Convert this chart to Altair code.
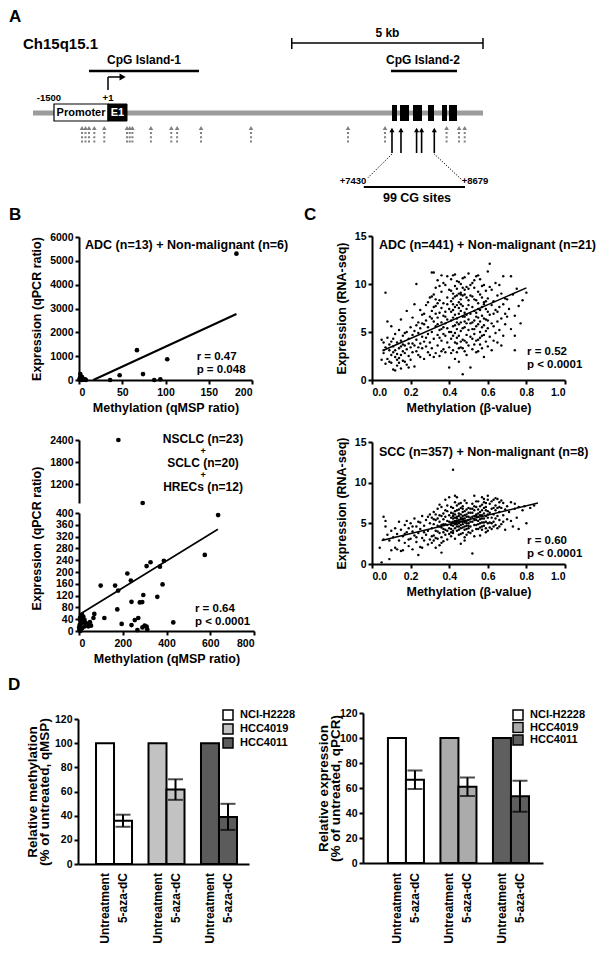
import altair as alt
import pandas as pd

FONT = "Liberation Sans, Arial, Helvetica, sans-serif"
PW, PH = 588, 939

# ---------------- data: panel A (positions in bp relative to TSS) ----------------
gene_span = [-2000, 10000]
promoter = [-1440, 0]
exon1 = [0, 507]
exon_starts = [7573, 7787, 8133, 8533, 8907, 9093]
exon_ends = [7707, 8027, 8373, 8693, 9040, 9307]
cpg1 = [-507, 2427]
cpg2 = [7547, 9307]
scale_5kb = [4900, 10000]
cg_region = [6821, 9520]
cg_triangles = [-693, -600, -507, -365, -99, 507, 579, 651, 1144, 1688, 1843, 2480,
                3813, 6400, 7387, 9029, 9360, 9512]
cg_arrows = [7573, 7813, 8229, 8363, 8701]

# ---------------- data: panel B ----------------
b1_meth = [0.5, 1, 1.5, 2, 2.5, 3, 3.5, 4, 5, 7, 8, 36, 47, 67, 74, 87, 94, 102, 182]
b1_expr = [20, 80, 250, 150, 40, 0, 120, 60, 10, 30, 0, 0, 200, 1250, 250, 0, 30, 870, 5300]
b1_fit_x = [16.5, 182]
b1_fit_y = [0, 2770]

b2_meth = [636, 99, 165, 179, 221, 237, 309, 327, 370, 388, 382, 358, 294, 240, 278, 289,
           175, 575, 431, 195, 240, 255, 271, 300, 309, 312, 267, 116, 70, 66, 50, 43, 27,
           5, 8, 12, 10, 3, 15, 2, 20, 18, 6, 25, 14, 45, 55, 1, 4, 9, 30, 7, 290]
b2_expr = [393, 154, 154, 137, 195, 171, 220, 233, 218, 238, 158, 116, 122, 99, 97, 98,
           73, 258, 29, 24, 20, 37, 44, 18, 15, 6, 3, 44, 58, 44, 30, 16, 16,
           45, 40, 35, 25, 20, 10, 5, 48, 30, 0, 38, 55, 25, 18, 12, 2, 8, 28, 33, 12]
b2_high_meth = [180, 291]
b2_high_expr = [2400, 700]
b2_fit_x = [0, 635]
b2_fit_y = [55, 345]

# ---------------- data: panel C ----------------
c_top = [
    (0.05, 2.1), (0.06, 3.9), (0.06, 2.8), (0.07, 9.1), (0.07, 3.4), (0.08, 4.4), (0.08, 2.2),
    (0.09, 1.9), (0.09, 3.1), (0.10, 4.0), (0.10, 2.6), (0.10, 5.6), (0.05, 4.2), (0.07, 1.7),
    (0.09, 3.7), (0.08, 6.1), (0.06, 3.1), (0.10, 1.8),
    (0.11, 2.9), (0.11, 1.1), (0.11, 3.5), (0.12, 2.4), (0.12, 4.8), (0.12, 1.0), (0.13, 2.7),
    (0.13, 3.9), (0.13, 1.5), (0.14, 2.3), (0.14, 5.2), (0.14, 3.3), (0.15, 1.2), (0.15, 2.6),
    (0.15, 4.1), (0.15, 6.3), (0.16, 3.0), (0.16, 2.0), (0.16, 4.6), (0.17, 3.6), (0.17, 1.9),
    (0.17, 2.8), (0.18, 5.0), (0.18, 3.2), (0.18, 1.6), (0.18, 7.2), (0.19, 2.5), (0.19, 4.3),
    (0.19, 3.8), (0.20, 2.1), (0.20, 5.5), (0.20, 3.4), (0.12, 3.1), (0.14, 1.8), (0.16, 3.7),
    (0.13, 2.1), (0.17, 4.9), (0.19, 1.3), (0.11, 4.3), (0.15, 3.5),
    (0.21, 4.7), (0.21, 2.9), (0.21, 6.5), (0.22, 3.6), (0.22, 5.1), (0.22, 1.4), (0.23, 10.0),
    (0.23, 4.2), (0.23, 3.0), (0.24, 6.0), (0.24, 2.6), (0.24, 4.9), (0.25, 3.8), (0.25, 7.3),
    (0.25, 5.4), (0.26, 3.3), (0.26, 4.5), (0.26, 6.8), (0.27, 2.2), (0.27, 5.8), (0.27, 4.0),
    (0.28, 3.5), (0.28, 6.2), (0.28, 7.8), (0.29, 4.8), (0.29, 2.9), (0.29, 5.5), (0.30, 3.9),
    (0.30, 6.6), (0.30, 8.6), (0.22, 7.9), (0.24, 3.4), (0.26, 5.9), (0.28, 4.4), (0.30, 2.6),
    (0.23, 5.7), (0.25, 2.4), (0.27, 6.9), (0.29, 8.1), (0.21, 3.8),
    (0.31, 11.2), (0.31, 5.0), (0.31, 3.3), (0.31, 7.2), (0.32, 11.2), (0.32, 4.3), (0.32, 6.1),
    (0.32, 8.9), (0.33, 2.8), (0.33, 5.6), (0.33, 7.7), (0.33, 9.6), (0.34, 4.7), (0.34, 6.5),
    (0.34, 3.6), (0.34, 10.4), (0.35, 5.2), (0.35, 7.0), (0.35, 8.3), (0.35, 2.5), (0.36, 6.0),
    (0.36, 4.1), (0.36, 9.2), (0.36, 7.5), (0.37, 5.5), (0.37, 3.2), (0.37, 8.0), (0.37, 6.7),
    (0.38, 4.6), (0.38, 9.9), (0.38, 7.1), (0.38, 5.9), (0.39, 3.9), (0.39, 6.3), (0.39, 8.6),
    (0.39, 10.8), (0.40, 5.0), (0.40, 7.4), (0.40, 1.3), (0.40, 9.4), (0.31, 6.4), (0.32, 2.4),
    (0.33, 8.4), (0.34, 5.8), (0.35, 9.8), (0.36, 3.0), (0.37, 10.1), (0.38, 2.9), (0.39, 5.4),
    (0.40, 3.4), (0.32, 7.6), (0.34, 8.0), (0.36, 5.3), (0.38, 6.6), (0.35, 4.4), (0.33, 6.9),
    (0.37, 4.8), (0.39, 7.9), (0.31, 8.7), (0.36, 10.9),
    (0.41, 6.2), (0.41, 8.2), (0.41, 4.3), (0.41, 10.5), (0.42, 10.9), (0.42, 5.6), (0.42, 7.3),
    (0.42, 3.1), (0.42, 9.0), (0.43, 6.8), (0.43, 4.9), (0.43, 8.7), (0.43, 2.2), (0.43, 11.0),
    (0.44, 5.3), (0.44, 7.8), (0.44, 9.5), (0.44, 3.8), (0.44, 6.4), (0.45, 8.1), (0.45, 4.6),
    (0.45, 10.2), (0.45, 6.9), (0.45, 5.8), (0.46, 7.2), (0.46, 3.4), (0.46, 9.1), (0.46, 5.1),
    (0.46, 8.4), (0.47, 0.6), (0.47, 6.6), (0.47, 4.2), (0.47, 7.7), (0.47, 10.6), (0.48, 10.7),
    (0.48, 5.5), (0.48, 8.9), (0.48, 3.0), (0.48, 6.1), (0.49, 7.4), (0.49, 4.7), (0.49, 9.7),
    (0.49, 5.9), (0.50, 8.3), (0.50, 6.3), (0.50, 3.6), (0.50, 11.1), (0.41, 5.0), (0.42, 6.5),
    (0.43, 7.6), (0.44, 4.4), (0.45, 7.5), (0.46, 6.0), (0.47, 8.8), (0.48, 7.0), (0.49, 6.8),
    (0.50, 5.2), (0.41, 7.1), (0.42, 8.5), (0.43, 5.7), (0.44, 8.8), (0.45, 3.3), (0.46, 10.0),
    (0.47, 5.4), (0.48, 9.4), (0.49, 2.6), (0.50, 7.8), (0.41, 9.3), (0.43, 9.8), (0.44, 2.9),
    (0.46, 4.0), (0.47, 9.6), (0.49, 8.6), (0.50, 9.5), (0.42, 4.6), (0.44, 10.3), (0.45, 9.0),
    (0.48, 4.1), (0.43, 3.9), (0.46, 7.9), (0.41, 2.8), (0.45, 1.9), (0.49, 3.9), (0.47, 3.3),
    (0.44, 6.0), (0.42, 7.9), (0.48, 6.6), (0.46, 8.9),
    (0.51, 1.3), (0.51, 6.9), (0.51, 8.8), (0.51, 4.5), (0.52, 7.6), (0.52, 5.3), (0.52, 10.1),
    (0.52, 3.2), (0.53, 6.2), (0.53, 8.4), (0.53, 4.8), (0.53, 9.6), (0.54, 7.0), (0.54, 5.6),
    (0.54, 2.9), (0.54, 10.8), (0.55, 6.5), (0.55, 8.0), (0.55, 4.2), (0.55, 9.2), (0.56, 7.3),
    (0.56, 5.0), (0.56, 10.5), (0.56, 3.7), (0.57, 6.7), (0.57, 8.6), (0.57, 4.6), (0.58, 7.9),
    (0.58, 5.7), (0.58, 9.9), (0.58, 2.4), (0.59, 6.3), (0.59, 8.2), (0.59, 4.0), (0.60, 7.1),
    (0.60, 5.4), (0.60, 11.3), (0.51, 5.9), (0.52, 8.7), (0.53, 7.2), (0.54, 4.1), (0.55, 5.8),
    (0.56, 8.9), (0.57, 7.6), (0.58, 6.4), (0.59, 9.3), (0.60, 3.5), (0.52, 6.0), (0.53, 10.4),
    (0.54, 8.3), (0.55, 3.0), (0.56, 6.1), (0.57, 9.8), (0.58, 4.7), (0.59, 5.1), (0.60, 8.5),
    (0.51, 9.9), (0.53, 5.3), (0.55, 10.9), (0.57, 5.5), (0.59, 7.4), (0.61, 12.1), (0.52, 4.3),
    (0.54, 6.6), (0.56, 4.4), (0.58, 8.1), (0.60, 6.2), (0.53, 3.7), (0.55, 7.4), (0.57, 3.3),
    (0.61, 6.8), (0.61, 4.5), (0.62, 3.1), (0.62, 7.8), (0.62, 9.4), (0.63, 5.6), (0.63, 8.2),
    (0.63, 6.9), (0.64, 4.9), (0.64, 10.1), (0.64, 7.3), (0.65, 6.1), (0.65, 8.8), (0.65, 3.9),
    (0.66, 7.6), (0.66, 5.2), (0.67, 9.0), (0.67, 6.4), (0.68, 10.8), (0.68, 4.6), (0.68, 7.9),
    (0.69, 5.8), (0.69, 8.5), (0.70, 8.4), (0.70, 6.6), (0.61, 9.7), (0.63, 4.1), (0.66, 9.9),
    (0.62, 5.9), (0.65, 7.1), (0.67, 3.6), (0.69, 6.9),
    (0.71, 7.4), (0.72, 10.8), (0.72, 5.3), (0.73, 8.9), (0.74, 3.1), (0.74, 6.7), (0.75, 9.5),
    (0.76, 7.7), (0.77, 5.9), (0.78, 8.3), (0.80, 9.1), (0.74, 4.6),
]
c_top_fit_x = [0.06, 0.80]
c_top_fit_y = [3.1, 9.6]

c_bot = [
    (0.04, 2.0), (0.05, 0.2), (0.06, 5.8), (0.06, 3.0), (0.07, 4.6), (0.07, 5.3), (0.08, 3.6),
    (0.09, 0.6), (0.09, 2.9), (0.10, 1.7), (0.10, 4.1), (0.11, 3.3), (0.12, 2.0), (0.12, 4.4),
    (0.13, 1.8), (0.13, 3.7), (0.14, 2.9), (0.15, 1.6), (0.15, 4.2), (0.14, 5.2),
    (0.16, 3.4), (0.16, 1.7), (0.17, 4.8), (0.17, 2.6), (0.18, 3.9), (0.18, 5.3), (0.19, 2.2),
    (0.19, 4.4), (0.20, 3.1), (0.20, 5.0), (0.21, 1.8), (0.21, 4.0), (0.22, 3.5), (0.22, 5.6),
    (0.23, 2.7), (0.23, 4.6), (0.24, 1.1), (0.24, 3.8), (0.24, 5.2), (0.25, 4.3), (0.25, 2.1),
    (0.26, 3.2), (0.26, 5.9), (0.27, 4.7), (0.27, 2.9), (0.28, 3.6), (0.28, 5.4), (0.29, 4.1),
    (0.29, 2.4), (0.30, 3.0), (0.30, 5.0), (0.30, 6.1), (0.17, 3.7), (0.19, 3.0), (0.21, 4.6),
    (0.23, 3.3), (0.25, 5.1), (0.27, 3.9), (0.29, 5.8), (0.26, 2.0),
    (0.31, 4.4), (0.31, 2.6), (0.31, 5.7), (0.32, 3.5), (0.32, 4.9), (0.32, 6.4), (0.33, 2.0),
    (0.33, 4.1), (0.33, 5.4), (0.34, 3.1), (0.34, 4.7), (0.34, 6.8), (0.35, 3.8), (0.35, 5.2),
    (0.35, 2.3), (0.35, 7.3), (0.36, 4.5), (0.36, 5.9), (0.36, 3.3), (0.36, 1.4), (0.37, 4.9),
    (0.37, 6.2), (0.37, 2.8), (0.37, 5.5), (0.38, 4.2), (0.38, 5.8), (0.38, 3.6), (0.38, 7.9),
    (0.39, 4.8), (0.39, 6.5), (0.39, 3.0), (0.39, 5.3), (0.40, 4.4), (0.40, 6.0), (0.40, 3.7),
    (0.40, 8.2), (0.31, 3.4), (0.32, 5.5), (0.33, 6.1), (0.34, 4.0), (0.35, 6.0), (0.36, 7.0),
    (0.37, 3.9), (0.38, 4.9), (0.39, 7.2), (0.40, 5.2), (0.33, 3.2), (0.35, 4.6), (0.37, 4.3),
    (0.39, 4.1), (0.34, 5.6), (0.36, 4.8), (0.38, 6.6), (0.32, 2.9), (0.36, 2.6),
    (0.41, 5.1), (0.41, 4.3), (0.41, 6.3), (0.41, 3.4), (0.42, 11.6), (0.42, 5.6), (0.42, 4.7),
    (0.42, 6.9), (0.42, 3.8), (0.43, 5.3), (0.43, 4.4), (0.43, 6.1), (0.43, 7.6), (0.43, 3.1),
    (0.44, 5.8), (0.44, 4.9), (0.44, 6.6), (0.44, 4.1), (0.44, 8.2), (0.45, 5.4), (0.45, 4.6),
    (0.45, 6.2), (0.45, 5.0), (0.45, 3.6), (0.46, 5.7), (0.46, 4.8), (0.46, 6.9), (0.46, 5.2),
    (0.46, 2.5), (0.47, 5.5), (0.47, 4.5), (0.47, 6.4), (0.47, 5.9), (0.47, 7.1), (0.48, 5.1),
    (0.48, 4.2), (0.48, 6.0), (0.48, 5.6), (0.48, 3.3), (0.49, 5.8), (0.49, 4.7), (0.49, 6.7),
    (0.49, 5.3), (0.49, 7.5), (0.50, 5.4), (0.50, 4.4), (0.50, 6.3), (0.50, 5.0), (0.50, 3.9),
    (0.41, 5.7), (0.42, 5.2), (0.43, 4.9), (0.44, 5.3), (0.45, 5.9), (0.46, 4.4), (0.47, 5.2),
    (0.48, 6.5), (0.49, 4.3), (0.50, 5.8), (0.41, 4.8), (0.42, 6.2), (0.43, 5.7), (0.44, 4.6),
    (0.45, 6.7), (0.46, 6.1), (0.47, 4.9), (0.48, 5.3), (0.49, 6.1), (0.50, 6.9), (0.41, 7.0),
    (0.43, 8.4), (0.45, 7.4), (0.47, 3.8), (0.49, 3.6), (0.42, 4.1), (0.44, 7.2), (0.46, 3.7),
    (0.48, 7.8), (0.50, 4.7), (0.41, 3.9), (0.43, 6.5), (0.45, 4.2), (0.47, 6.8), (0.49, 5.0),
    (0.44, 5.6), (0.46, 5.5), (0.48, 4.6), (0.42, 5.9), (0.46, 7.5), (0.48, 2.9), (0.45, 5.1),
    (0.47, 5.6), (0.43, 5.0),
    (0.51, 5.7), (0.51, 4.6), (0.51, 6.8), (0.51, 3.8), (0.52, 5.2), (0.52, 6.3), (0.52, 1.3),
    (0.52, 7.4), (0.53, 5.9), (0.53, 4.8), (0.53, 6.6), (0.53, 8.4), (0.54, 5.4), (0.54, 4.3),
    (0.54, 7.0), (0.54, 6.1), (0.55, 5.8), (0.55, 4.9), (0.55, 6.7), (0.55, 7.7), (0.56, 5.5),
    (0.56, 4.5), (0.56, 6.4), (0.56, 3.5), (0.57, 6.0), (0.57, 5.1), (0.57, 7.3), (0.57, 8.2),
    (0.58, 5.6), (0.58, 4.7), (0.58, 6.9), (0.58, 6.2), (0.59, 5.9), (0.59, 4.4), (0.59, 7.5),
    (0.59, 5.2), (0.60, 6.5), (0.60, 5.0), (0.60, 7.9), (0.60, 4.1), (0.51, 5.2), (0.52, 4.1),
    (0.53, 5.4), (0.54, 5.9), (0.55, 5.3), (0.56, 7.1), (0.57, 4.6), (0.58, 7.6), (0.59, 6.6),
    (0.60, 5.7), (0.51, 6.3), (0.53, 7.1), (0.55, 4.3), (0.57, 6.6), (0.59, 3.9), (0.52, 5.8),
    (0.54, 4.8), (0.56, 6.0), (0.58, 5.1), (0.60, 6.1), (0.53, 3.4), (0.55, 6.2), (0.57, 5.6),
    (0.59, 7.0), (0.54, 7.7), (0.56, 5.0), (0.58, 8.0), (0.52, 6.8), (0.57, 4.2), (0.60, 8.4),
    (0.61, 6.3), (0.61, 5.1), (0.61, 7.4), (0.62, 5.7), (0.62, 6.8), (0.62, 4.3), (0.63, 6.1),
    (0.63, 7.9), (0.63, 5.2), (0.64, 6.6), (0.64, 4.8), (0.64, 7.2), (0.65, 5.9), (0.65, 8.0),
    (0.65, 4.4), (0.66, 6.4), (0.66, 7.6), (0.66, 5.4), (0.67, 6.9), (0.67, 4.9), (0.68, 7.5),
    (0.68, 6.0), (0.69, 4.2), (0.69, 6.7), (0.70, 7.1), (0.70, 5.5), (0.62, 7.7), (0.63, 4.6),
    (0.64, 5.6), (0.65, 6.9), (0.66, 4.6), (0.67, 7.8), (0.68, 5.2), (0.61, 4.5), (0.63, 6.9),
    (0.66, 7.0), (0.64, 8.1), (0.62, 5.0),
    (0.71, 6.4), (0.72, 5.3), (0.72, 7.6), (0.73, 4.6), (0.74, 6.8), (0.74, 7.4), (0.75, 5.7),
    (0.76, 4.3), (0.76, 7.0), (0.78, 6.6), (0.79, 7.1), (0.80, 5.0), (0.82, 6.9), (0.84, 7.2),
]
c_bot_fit_x = [0.05, 0.86]
c_bot_fit_y = [2.9, 7.5]

# ---------------- data: panel D ----------------
cells = ["NCI-H2228", "HCC4019", "HCC4011"]
treats = ["Untreatment", "5-aza-dC"]
d_meth_mean = [100, 35.8, 100, 61.6, 100, 39.0]
d_meth_err = [0, 5.0, 0, 8.5, 0, 10.8]
d_expr_mean = [100, 66.6, 100, 61.0, 100, 53.5]
d_expr_err = [0, 7.4, 0, 7.4, 0, 12.4]
d_meth_colors = ["#ffffff", "#c2c2c2", "#5b5b5b"]
d_expr_colors = ["#ffffff", "#ababab", "#5f5f5f"]


# ---------------- helpers ----------------
def axis(orient, offset, **kw):
    base = dict(orient=orient, offset=offset, grid=False,
                domainColor="black", domainWidth=2,
                tickColor="black", tickWidth=2, tickSize=4,
                labelFont=FONT, labelFontSize=10.5, labelFontWeight="bold",
                labelColor="black", labelPadding=2, labelOverlap=False,
                titleFont=FONT, titleFontSize=12.5, titleFontWeight="bold",
                titleColor="black", titlePadding=4)
    base.update(kw)
    return alt.Axis(**base)


def text_layer(df, X, Y, size=12.5, align="left", color="black", **kw):
    return alt.Chart(df).mark_text(font=FONT, fontWeight="bold", fontSize=size,
                                   align=align, baseline="middle", color=color, **kw
                                   ).encode(x=X, y=Y, text="t:N")


# ---------------- panel A ----------------
AXS = alt.Scale(domain=[-2000, 10000], range=[25, 475])
AYS = alt.Scale(domain=[0, 210], range=[0, 210])


def AX(f="x"):
    return alt.X(f"{f}:Q", scale=AXS, axis=None)


def AY(f="y"):
    return alt.Y(f"{f}:Q", scale=AYS, axis=None)


def a_rule(df, **mk):
    enc = dict(x=AX(), y=AY())
    if "x2" in df:
        enc["x2"] = alt.X2("x2:Q")
    if "y2" in df:
        enc["y2"] = alt.Y2("y2:Q")
    return alt.Chart(df).mark_rule(**mk).encode(**enc)


def a_rect(df, **mk):
    return alt.Chart(df).mark_rect(**mk).encode(x=AX(), x2=alt.X2("x2:Q"), y=AY(), y2=alt.Y2("y2:Q"))


def a_points(df, **mk):
    return alt.Chart(df).mark_point(filled=True, opacity=1, **mk).encode(x=AX(), y=AY())


GRAY = "#808080"
panelA = alt.layer(
    a_rule(pd.DataFrame({"x": [gene_span[0]], "x2": [gene_span[1]], "y": [105]}),
           color="#9c9c9c", strokeWidth=5),
    a_rect(pd.DataFrame({"x": [promoter[0]], "x2": [promoter[1]], "y": [96], "y2": [113]}),
           fill="white", stroke="black", strokeWidth=1.2),
    a_rect(pd.DataFrame({"x": [exon1[0]], "x2": [exon1[1]], "y": [96], "y2": [113]}),
           fill="black", stroke="black", strokeWidth=1),
    a_rect(pd.DataFrame({"x": exon_starts, "x2": exon_ends,
                         "y": [97] * len(exon_starts), "y2": [113] * len(exon_starts)}),
           fill="black"),
    text_layer(pd.DataFrame({"t": ["Promoter"], "x": [-720], "y": [105]}), AX(), AY(),
               size=11, align="center"),
    text_layer(pd.DataFrame({"t": ["E1"], "x": [253], "y": [105]}), AX(), AY(),
               size=11, align="center", color="white"),
    text_layer(pd.DataFrame({"t": ["-1500", "+1"], "x": [-1573, 0], "y": [90, 90]}), AX(), AY(),
               size=9.5, align="center"),
    # transcription start arrow
    a_rule(pd.DataFrame({"x": [0], "y": [69], "y2": [82]}), color="black", strokeWidth=1.5),
    a_rule(pd.DataFrame({"x": [0], "x2": [330], "y": [69]}), color="black", strokeWidth=1.5),
    a_points(pd.DataFrame({"x": [390], "y": [69]}), shape="triangle-right", size=50, color="black"),
    # CpG islands
    a_rule(pd.DataFrame({"x": [cpg1[0], cpg2[0]], "x2": [cpg1[1], cpg2[1]], "y": [63, 63]}),
           color="black", strokeWidth=2.5),
    text_layer(pd.DataFrame({"t": ["CpG Island-1", "CpG Island-2"], "x": [960, 8400], "y": [52, 52]}),
               AX(), AY(), size=12, align="center"),
    # 5 kb scale
    a_rule(pd.DataFrame({"x": [scale_5kb[0]], "x2": [scale_5kb[1]], "y": [35]}),
           color="black", strokeWidth=1.5),
    a_rule(pd.DataFrame({"x": scale_5kb, "y": [30, 30], "y2": [41, 41]}),
           color="black", strokeWidth=1.5),
    text_layer(pd.DataFrame({"t": ["5 kb"], "x": [7450], "y": [25]}), AX(), AY(),
               size=12, align="center"),
    text_layer(pd.DataFrame({"t": ["Ch15q15.1"], "x": [-2267], "y": [36]}), AX(), AY(),
               size=15, align="left"),
    # CG sites
    a_points(pd.DataFrame({"x": cg_triangles, "y": [120] * len(cg_triangles)}),
             shape="triangle-up", size=22, color=GRAY),
    a_rule(pd.DataFrame({"x": cg_triangles, "y": [124] * len(cg_triangles),
                         "y2": [136] * len(cg_triangles)}),
           color=GRAY, strokeWidth=2, strokeDash=[2, 2.2]),
    a_rule(pd.DataFrame({"x": cg_arrows, "y": [123] * len(cg_arrows), "y2": [145] * len(cg_arrows)}),
           color="black", strokeWidth=1.6),
    a_points(pd.DataFrame({"x": cg_arrows, "y": [122] * len(cg_arrows)}),
             shape="triangle-up", size=26, color="black"),
    a_rule(pd.DataFrame({"x": [cg_arrows[0], cg_arrows[-1]], "y": [146, 146],
                         "x2": [6925, 9440], "y2": [170, 172]}),
           color="black", strokeWidth=1, strokeDash=[1.2, 1.5]),
    text_layer(pd.DataFrame({"t": ["+7430"], "x": [6890], "y": [173]}), AX(), AY(),
               size=9.5, align="right"),
    text_layer(pd.DataFrame({"t": ["+8679"], "x": [9430], "y": [173]}), AX(), AY(),
               size=9.5, align="left"),
    a_rule(pd.DataFrame({"x": [cg_region[0]], "x2": [cg_region[1]], "y": [179]}),
           color="black", strokeWidth=2),
    text_layer(pd.DataFrame({"t": ["99 CG sites"], "x": [8240], "y": [190]}), AX(), AY(),
               size=12.5, align="center"),
)

# ---------------- panel B top ----------------
def b1x():
    return alt.X("x:Q", scale=alt.Scale(domain=[0, 200], range=[71, 244]),
                 axis=axis("bottom", 372 - PH, values=[0, 50, 100, 150, 200], format="d",
                           title="Methylation (qMSP ratio)", labelPadding=3))


def b1y():
    return alt.Y("y:Q", scale=alt.Scale(domain=[0, 6000], range=[372, 229]),
                 axis=axis("left", -71, values=[0, 1000, 2000, 3000, 4000, 5000, 6000], format="d",
                           title="Expression (qPCR ratio)", titleX=-36))


panelB1 = alt.layer(
    alt.Chart(pd.DataFrame({"x": b1_fit_x, "y": b1_fit_y})).mark_line(color="black", strokeWidth=2)
    .encode(x=b1x(), y=b1y()),
    alt.Chart(pd.DataFrame({"x": b1_meth, "y": b1_expr})).mark_circle(color="black", size=22, opacity=1)
    .encode(x=b1x(), y=b1y()),
    text_layer(pd.DataFrame({"t": ["ADC (n=13) + Non-malignant (n=6)"], "x": [7], "y": [5665]}),
               b1x(), b1y()),
    text_layer(pd.DataFrame({"t": ["r = 0.47", "p = 0.048"], "x": [136, 136], "y": [965, 420]}),
               b1x(), b1y(), size=11.5),
)

# ---------------- panel B bottom (broken axis) ----------------
B2XS = alt.Scale(domain=[0, 800], range=[71, 246])


def b2x(ax=True):
    if ax:
        return alt.X("x:Q", scale=B2XS,
                     axis=axis("bottom", 623 - PH, values=[0, 200, 400, 600, 800], format="d",
                               title="Methylation (qMSP ratio)", labelPadding=3))
    return alt.X("x:Q", scale=B2XS, axis=None)


def b2y():
    return alt.Y("y:Q", scale=alt.Scale(domain=[0, 400], range=[623, 505]),
                 axis=axis("left", -71, values=list(range(0, 401, 40)), format="d",
                           title="Expression (qPCR ratio)", titleX=-36, titleY=530))


def b2uy():
    return alt.Y("y:Q", scale=alt.Scale(domain=[700, 2400], range=[495, 432]),
                 axis=axis("left", -71, values=[1200, 1800, 2400], format="d", title=None))


b2_title_lines = ["NSCLC (n=23)", "SCLC (n=20)", "HRECs (n=12)"]
panelB2up = alt.layer(
    alt.Chart(pd.DataFrame({"x": b2_high_meth, "y": b2_high_expr}))
    .mark_circle(color="black", size=22, opacity=1).encode(x=b2x(False), y=b2uy()),
    text_layer(pd.DataFrame({"t": b2_title_lines, "x": [567] * 3, "y": [2427, 1779, 1132]}),
               b2x(False), b2uy(), size=12, align="center"),
    text_layer(pd.DataFrame({"t": ["+", "+"], "x": [567] * 2, "y": [2103, 1455]}),
               b2x(False), b2uy(), size=9, align="center"),
)

panelB2 = alt.layer(
    alt.Chart(pd.DataFrame({"x": b2_fit_x, "y": b2_fit_y})).mark_line(color="black", strokeWidth=1.6)
    .encode(x=b2x(), y=b2y()),
    alt.Chart(pd.DataFrame({"x": b2_meth, "y": b2_expr})).mark_circle(color="black", size=22, opacity=1)
    .encode(x=b2x(), y=b2y()),
    text_layer(pd.DataFrame({"t": ["r = 0.64", "p < 0.0001"], "x": [530, 530], "y": [75, 31]}),
               b2x(), b2y(), size=11.5),
)

# ---------------- panel C ----------------
def cx(bottom_px):
    return alt.X("x:Q", scale=alt.Scale(domain=[0, 1], range=[364, 557]),
                 axis=axis("bottom", bottom_px - PH, values=[0, 0.2, 0.4, 0.6, 0.8, 1.0],
                           format=".1f", title="Methylation (β-value)", labelPadding=3))


def cy(bottom_px, top_px):
    return alt.Y("y:Q", scale=alt.Scale(domain=[0, 15], range=[bottom_px, top_px]),
                 axis=axis("left", -364, values=[0, 5, 10, 15], format="d",
                           title="Expression (RNA-seq)", titleX=-24))


def c_panel(points, fx, fy, title, r, p, bottom_px, top_px, ty, ry, py):
    X, Y = cx(bottom_px), cy(bottom_px, top_px)
    return alt.layer(
        alt.Chart(pd.DataFrame({"x": [a for a, b in points], "y": [b for a, b in points]}))
        .mark_circle(color="black", size=6, opacity=1).encode(x=X, y=Y),
        alt.Chart(pd.DataFrame({"x": fx, "y": fy})).mark_line(color="black", strokeWidth=1.5)
        .encode(x=X, y=Y),
        text_layer(pd.DataFrame({"t": [title], "x": [0.036], "y": [ty]}), X, Y),
        text_layer(pd.DataFrame({"t": [r, p], "x": [0.803, 0.803], "y": [ry, py]}), X, Y, size=11.5),
    )


panelC1 = c_panel(c_top, c_top_fit_x, c_top_fit_y, "ADC (n=441) + Non-malignant (n=21)",
                  "r = 0.52", "p < 0.0001", 372, 228, 14.06, 2.92, 1.56)
panelC2 = c_panel(c_bot, c_bot_fit_x, c_bot_fit_y, "SCC (n=357) + Non-malignant (n=8)",
                  "r = 0.60", "p < 0.0001", 556, 434, 13.8, 2.83, 1.23)


# ---------------- panel D ----------------
def d_panel(means, errs, colors, y_title, xr, align, pad_outer, ybot, ytop, y_off, title_x,
            legend_x, legend_y, label_dy, row_pad):
    rows = [(c, t) for c in cells for t in treats]
    df = pd.DataFrame({"cell": [c for c, t in rows], "treat": [t for c, t in rows],
                       "v": means, "e": errs})
    df["lo"] = df["v"] - df["e"]
    df["hi"] = df["v"] + df["e"]
    err = df[df["e"] > 0]
    caps = pd.concat([err.assign(c=err["lo"]), err.assign(c=err["hi"])])

    XS = alt.Scale(domain=cells, range=xr, paddingInner=0.314, paddingOuter=pad_outer, align=align)
    YS = alt.Scale(domain=[0, 120], range=[ybot, ytop])
    xax = axis("bottom", ybot - PH, labels=False, ticks=False, title=None)
    yax = axis("left", y_off, values=[0, 20, 40, 60, 80, 100, 120], title=y_title,
               titleX=title_x, titleFontSize=13.5, titleLineHeight=12.5)

    X = alt.X("cell:N", scale=XS, axis=xax)
    XO = alt.XOffset("treat:N", scale=alt.Scale(domain=treats))

    bars = alt.Chart(df).mark_bar(stroke="black", strokeWidth=2).encode(
        x=X, xOffset=XO, y=alt.Y("v:Q", scale=YS, axis=yax),
        color=alt.Color("cell:N", scale=alt.Scale(domain=cells, range=colors),
                        legend=alt.Legend(orient="none", legendX=legend_x, legendY=legend_y,
                                          title=None, symbolType="square", symbolSize=100,
                                          symbolStrokeColor="black", symbolStrokeWidth=1.5,
                                          labelFont=FONT, labelFontSize=11, labelFontWeight="bold",
                                          labelColor="black", rowPadding=row_pad, labelOffset=6,
                                          clipHeight=12, padding=0)))
    rule = alt.Chart(err).mark_rule(color="black", strokeWidth=2).encode(
        x=X, xOffset=XO, y=alt.Y("lo:Q", scale=YS, axis=yax), y2="hi:Q")
    cap = alt.Chart(caps).mark_tick(color="black", thickness=2, size=15).encode(
        x=X, xOffset=XO, y=alt.Y("c:Q", scale=YS, axis=yax))
    labels = alt.Chart(df).mark_text(font=FONT, fontWeight="bold", fontSize=12, angle=270,
                                     align="right", baseline="middle", color="black").encode(
        x=X, xOffset=XO, y=alt.YDatum(label_dy, scale=YS, axis=yax), text="treat:N")
    return alt.layer(bars, rule, cap, labels)


panelD1 = d_panel(d_meth_mean, d_meth_err, d_meth_colors,
                  ["Relative methylation", "(% of untreated, qMSP)"],
                  [70, 241], 0.6, 0.286, 856, 711, -70, -39, 214, 701, -7.5, 2)
panelD2 = d_panel(d_expr_mean, d_expr_err, d_expr_colors,
                  ["Relative expression", "(% of untreated, qPCR)"],
                  [355, 535], 0.64, 0.371, 855, 705, -355, -33, 504, 701, -8, 0.5)


# ---------------- panel letters ----------------
def letter(ch, x, y):
    return alt.Chart(pd.DataFrame({"t": [ch]})).mark_text(
        font=FONT, fontWeight="bold", fontSize=17, align="left", baseline="middle", color="black"
    ).encode(x=alt.value(x), y=alt.value(y), text="t:N")


chart = alt.layer(
    panelA, panelB1, panelB2up, panelB2, panelC1, panelC2, panelD1, panelD2,
    letter("A", 1, 9), letter("B", 1, 207), letter("C", 296, 207), letter("D", 0, 677),
).resolve_scale(
    x="independent", y="independent", color="independent", xOffset="independent"
).properties(
    width=PW, height=PH, padding=0, background="white"
).configure_view(stroke=None)

chart.save("out.html", embed_options={"renderer": "svg", "actions": False})
